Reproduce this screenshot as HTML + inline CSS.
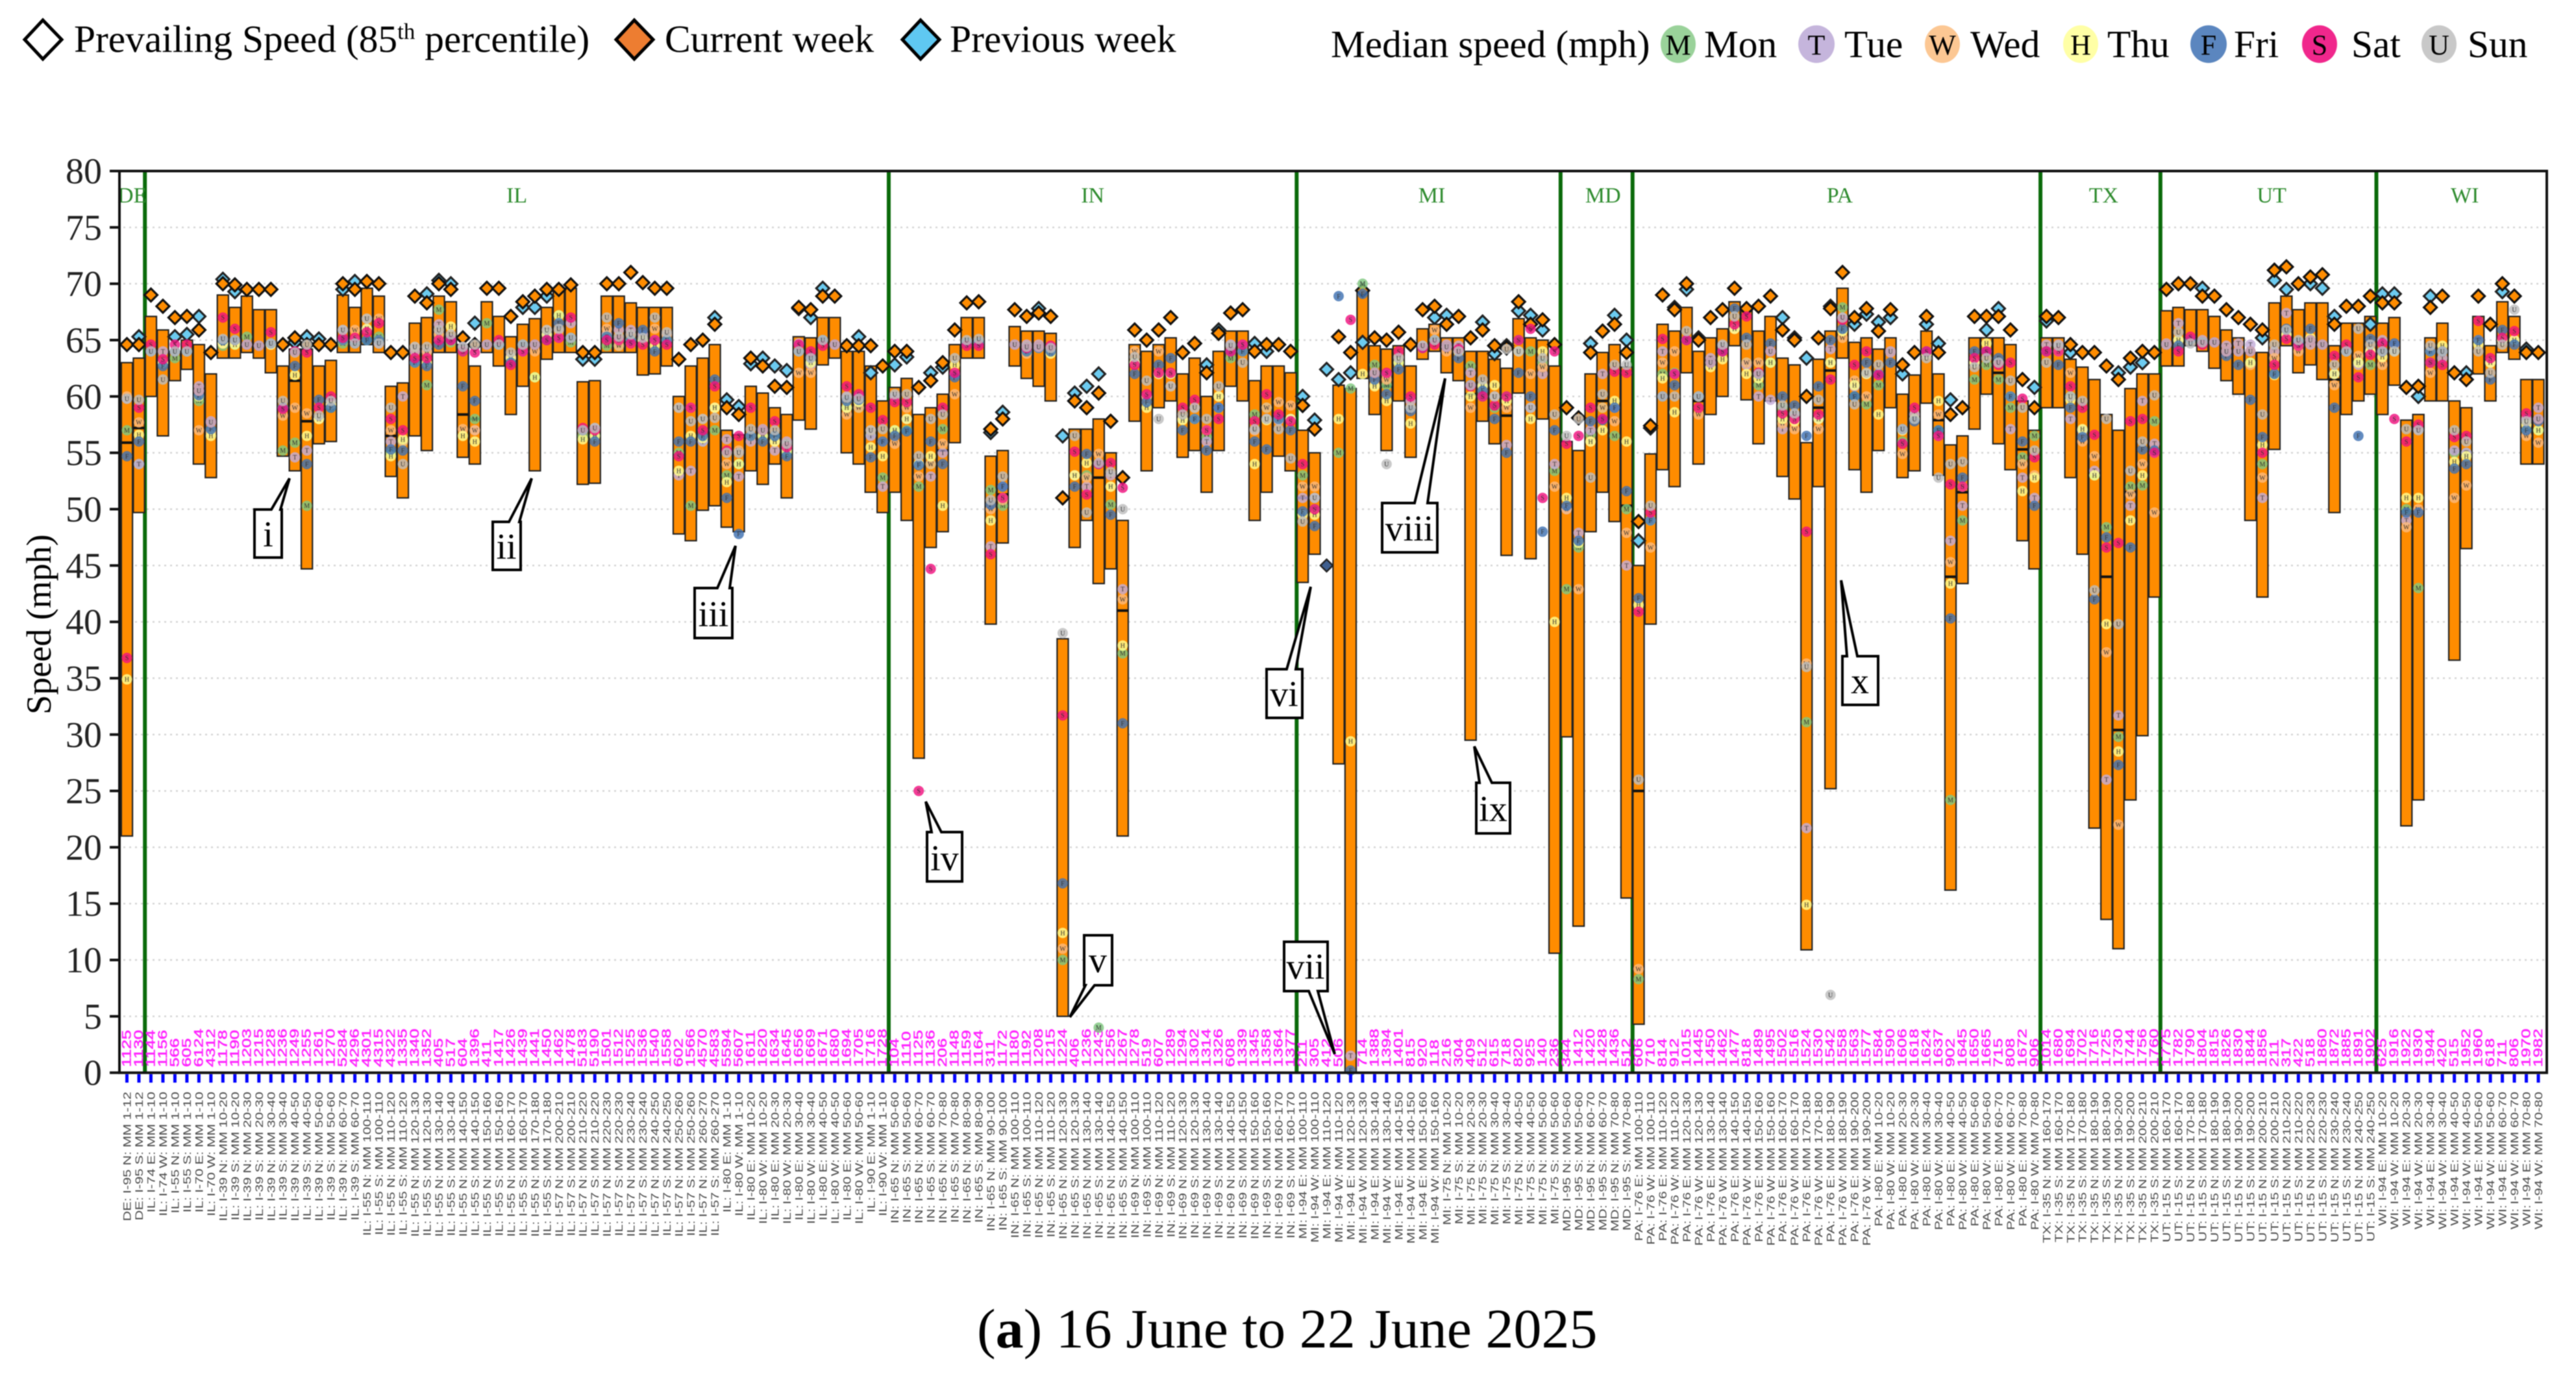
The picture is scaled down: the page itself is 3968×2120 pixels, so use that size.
<!DOCTYPE html>
<html lang="en">
<head>
<meta charset="utf-8">
<title>Prevailing and median speed by segment, 16 June to 22 June 2025</title>
<style>
html,body{margin:0;padding:0;background:#fff;}
#page{position:relative;width:3968px;height:2120px;overflow:hidden;background:#fff;}
#chart{position:absolute;left:0;top:0;filter:blur(0.7px);}
text{font-family:"Liberation Serif",serif;}
</style>
</head>
<body>
<div id="page">
<svg id="chart" width="3968" height="2120" viewBox="0 0 3968 2120" xmlns="http://www.w3.org/2000/svg">
  <g id="legend-left">
    <polygon points="66,31 95,61 66,91 38,61" fill="#fff" stroke="#000" stroke-width="5"/>
    <text x="114" y="80" font-size="59.4">Prevailing Speed (85<tspan dy="-20" font-size="35">th</tspan><tspan dy="20"> percentile)</tspan></text>
    <polygon points="977,31 1006,61 977,91 949,61" fill="#ED7D31" stroke="#000" stroke-width="5"/>
    <text x="1024" y="80" font-size="59.5">Current week</text>
    <polygon points="1418,31 1447,61 1418,91 1390,61" fill="#5FC8F2" stroke="#000" stroke-width="5"/>
    <text x="1463" y="80" font-size="59.5">Previous week</text>
  </g>
  <g id="legend-right">
    <text x="2050" y="88" font-size="59.4">Median speed (mph)</text>
    <ellipse cx="2585" cy="68" rx="27" ry="29" fill="#9AD29A"/>
    <text x="2585" y="84" font-size="44" text-anchor="middle">M</text>
    <text x="2625" y="88" font-size="59.4">Mon</text>
    <ellipse cx="2798" cy="68" rx="28" ry="29" fill="#C5B5DC"/>
    <text x="2798" y="84" font-size="44" text-anchor="middle">T</text>
    <text x="2841" y="88" font-size="59.4">Tue</text>
    <ellipse cx="2992" cy="68" rx="27" ry="29" fill="#FCC793"/>
    <text x="2992" y="84" font-size="44" text-anchor="middle">W</text>
    <text x="3035" y="88" font-size="59.4">Wed</text>
    <ellipse cx="3205" cy="68" rx="27" ry="29" fill="#FFFFA6"/>
    <text x="3205" y="84" font-size="44" text-anchor="middle">H</text>
    <text x="3246" y="88" font-size="59.4">Thu</text>
    <ellipse cx="3402" cy="68" rx="28" ry="29" fill="#5B86BF"/>
    <text x="3402" y="84" font-size="44" text-anchor="middle">F</text>
    <text x="3441" y="88" font-size="59.4">Fri</text>
    <ellipse cx="3573" cy="68" rx="27" ry="29" fill="#F0278C"/>
    <text x="3573" y="84" font-size="44" text-anchor="middle">S</text>
    <text x="3622" y="88" font-size="59.4">Sat</text>
    <ellipse cx="3757" cy="68" rx="27" ry="29" fill="#C8C8C8"/>
    <text x="3757" y="84" font-size="44" text-anchor="middle">U</text>
    <text x="3801" y="88" font-size="59.4">Sun</text>
  </g>
  <g id="grid"></g>
  <g id="dividers"></g>
  <g id="state-labels"></g>
  <g id="segment-codes"></g>
  <g id="bars"></g>
  <g id="week-lines"></g>
  <g id="previous"></g>
  <g id="current"></g>
  <g id="dots"></g>
  <g id="axes"></g>
  <g id="x-labels"></g>
  <text transform="translate(78,962) rotate(-90)" font-size="54" text-anchor="middle">Speed (mph)</text>
  <g><path d="M392 785H418L446 737L432 785H434V859H392Z" fill="#fff" stroke="#000" stroke-width="4"/><text x="413" y="842" font-size="56" text-anchor="middle">i</text></g>
  <g><path d="M759 804H784L819 737L800 804H802V878H759Z" fill="#fff" stroke="#000" stroke-width="4"/><text x="780" y="861" font-size="56" text-anchor="middle">ii</text></g>
  <g><path d="M1070 906H1105L1133 841L1124 906H1128V983H1070Z" fill="#fff" stroke="#000" stroke-width="4"/><text x="1099" y="965" font-size="56" text-anchor="middle">iii</text></g>
  <g><path d="M1428 1282H1435L1426 1235L1450 1282H1482V1358H1428Z" fill="#fff" stroke="#000" stroke-width="4"/><text x="1455" y="1341" font-size="56" text-anchor="middle">iv</text></g>
  <g><path d="M1670 1441H1713V1518H1686L1648 1567L1672 1518H1670Z" fill="#fff" stroke="#000" stroke-width="4"/><text x="1691" y="1498" font-size="56" text-anchor="middle">v</text></g>
  <g><path d="M1951 1031H1982L2019 904L1996 1031H2006V1106H1951Z" fill="#fff" stroke="#000" stroke-width="4"/><text x="1978" y="1088" font-size="56" text-anchor="middle">vi</text></g>
  <g><path d="M1978 1451H2045V1527H2030L2056 1624L2016 1527H1978Z" fill="#fff" stroke="#000" stroke-width="4"/><text x="2011" y="1508" font-size="56" text-anchor="middle">vii</text></g>
  <g><path d="M2129 775H2179L2226 583L2199 775H2214V851H2129Z" fill="#fff" stroke="#000" stroke-width="4"/><text x="2171" y="833" font-size="56" text-anchor="middle">viii</text></g>
  <g><path d="M2274 1206H2279L2271 1150L2298 1206H2326V1284H2274Z" fill="#fff" stroke="#000" stroke-width="4"/><text x="2300" y="1265" font-size="56" text-anchor="middle">ix</text></g>
  <g><path d="M2838 1011H2845L2836 894L2861 1011H2893V1086H2838Z" fill="#fff" stroke="#000" stroke-width="4"/><text x="2865" y="1068" font-size="56" text-anchor="middle">x</text></g>
  <text x="1505" y="2076" font-size="86">(<tspan font-weight="bold">a</tspan>) 16 June to 22 June 2025</text>
</svg>
</div>
<script>
const _ = null;
const yTicks = [0,5,10,15,20,25,30,35,40,45,50,55,60,65,70,75,80];
const stateNames = ["DE","IL","IN","MI","MD","PA","TX","UT","WI"];
const stateCounts = [2,62,34,22,6,34,10,18,14];
const routeRuns = [
["DE","I-95","N","S",["1-12"]],
["IL","I-74","E","W",["1-10"]],["IL","I-55","N","S",["1-10"]],["IL","I-70","E","W",["1-10"]],
["IL","I-39","N","S",["10-20","20-30","30-40","40-50","50-60","60-70"]],
["IL","I-55","N","S",["100-110","110-120","120-130","130-140","140-150","150-160","160-170","170-180"]],
["IL","I-57","N","S",["200-210","210-220","220-230","230-240","240-250","250-260","260-270"]],
["IL","I-80","E","W",["1-10","10-20","20-30","30-40","40-50","50-60"]],["IL","I-90","E","W",["1-10"]],
["IN","I-65","N","S",["50-60","60-70","70-80","80-90","90-100","100-110","110-120","120-130","130-140","140-150"]],
["IN","I-69","N","S",["100-110","110-120","120-130","130-140","140-150","150-160","160-170"]],
["MI","I-94","E","W",["100-110","110-120","120-130","130-140","140-150","150-160"]],
["MI","I-75","N","S",["10-20","20-30","30-40","40-50","50-60"]],
["MD","I-95","N","S",["50-60","60-70","70-80"]],
["PA","I-76","E","W",["100-110","110-120","120-130","130-140","140-150","150-160","160-170","170-180","180-190","190-200"]],
["PA","I-80","E","W",["10-20","20-30","30-40","40-50","50-60","60-70","70-80"]],
["TX","I-35","N","S",["160-170","170-180","180-190","190-200","200-210"]],
["UT","I-15","N","S",["160-170","170-180","180-190","190-200","200-210","210-220","220-230","230-240","240-250"]],
["WI","I-94","E","W",["10-20","20-30","30-40","40-50","50-60","60-70","70-80"]]
];
const segmentCodes = "1125 1130 1144 1156 566 605 6124 4312 1178 1190 1203 1215 1228 1236 1249 1255 1261 1270 5284 4296 4301 4315 4322 1335 1340 1352 405 517 604 1396 411 1417 1426 1439 1441 1450 1462 1478 5183 5190 1501 1512 1525 1536 1540 1558 602 1566 4570 4583 5594 5607 1611 1620 1634 1645 1656 1669 1671 1680 1694 1705 1716 1728 104 1110 1125 1136 206 1148 1159 1164 311 1172 1180 1192 1208 1215 1224 406 1236 1243 1256 1267 1278 519 607 1289 1294 1302 1314 1326 608 1339 1345 1358 1364 1377 211 305 412 506 610 714 1388 1394 1401 815 920 118 216 304 409 512 615 718 820 925 140 236 344 1412 1420 1428 1436 512 606 710 814 912 1015 1445 1450 1462 1477 818 1489 1495 1502 1516 1524 1530 1542 1558 1563 1577 1584 1590 1606 1618 1624 1637 902 1645 1650 1665 715 808 1672 906 1014 1680 1694 1702 1716 1725 1730 1744 1756 1760 1775 1782 1790 1804 1815 1826 1830 1844 1856 211 317 422 518 1860 1872 1885 1891 1902 625 1916 1922 1930 1944 420 515 1952 1960 618 711 806 1970 1982".split(" ");
const barHigh = [63,63.4,67.1,65.9,64,65,64.6,62,69,67.9,68.9,67.7,67.7,62.7,64.2,64.2,62.7,63.2,69,67.9,69.6,68.9,60.9,61.2,66.5,67,68.9,68.4,64.6,62.7,68.4,67.1,65.3,66.4,66.9,67.9,69.5,69.6,61.3,61.4,68.9,68.9,68.3,67.9,67.9,67.9,60,62.7,63.4,64.6,57,56.6,60.9,60.3,59,58.4,65.3,65.2,67,67,64,64,62.7,59.6,60.8,61.6,58.4,59,60.2,64.6,67,67,54.7,55.2,66.2,65.8,65.8,65.6,38.5,57.1,57.1,58,55,49,64.6,64,64.6,65.2,62,63.4,60,64,65.8,65.8,61.4,62.7,62.7,62.1,57,55,_,61,60.7,69.3,64.5,64.2,64.5,62.7,66,66.4,65.2,65.2,64,64,63.3,62.5,66.9,65.2,65,62.7,56,55.2,62,63.9,64.6,62.6,45,54.9,66.4,65.8,67.9,64,65.2,66,68.4,67.7,65.8,67.1,63.4,62.8,55.9,63.3,65.8,69.6,64.8,65.2,64.2,65.2,60.2,61.9,65.8,62,55.7,56.5,65.2,65.2,65.2,64.6,59.6,57,65.2,65.2,63.3,62.6,61.5,58.4,57,60.7,62,62,67.6,67.9,67.7,67.7,67.1,65.9,65.2,63.9,63.9,68.3,68.9,67.7,68.3,68.3,64.5,66.5,66.5,67.1,66.5,67,57.9,58.4,65.2,66.5,59.6,59,67.1,64.5,68.4,67.1,61.5,61.5];
const barLow = [21,49.7,60,56.5,61.4,62.4,54,52.8,63.4,63.4,63.9,63.4,62.1,54.7,53.4,44.7,55.8,56,63.9,63.9,64.6,63.9,52.9,51,56.5,55.2,63.9,63.9,54.6,54,63.9,62.7,58.4,60.9,53.4,63.3,63.9,63.9,52.2,52.3,63.9,63.9,63.9,61.9,62,62.7,47.8,47.2,49.9,50.3,48.4,48,53.4,52.2,54,51,57.9,57.1,62.8,63.4,55,54,51.5,49.7,51.5,49,27.9,46.6,48,55.9,63.4,63.4,39.8,47,62.7,61.6,60.9,59.6,5,46.6,49,43.4,44.7,21,57.8,53.4,59,59.6,54.6,55.2,51.5,55.2,60.9,59.6,49,51.5,54.7,53.4,43.5,46,_,27.4,0,61.6,58.4,55.2,59.6,54.6,63.3,64,62.1,61.4,29.5,57.8,55.8,45.9,60.3,45.6,58,10.6,29.8,13,48,51.5,48.9,15.5,4.3,39.8,53.5,52,62.1,54,58.4,60,64.5,59.7,55.8,59.6,52.9,50.9,10.9,52,25.2,63.4,53.5,51.5,55.2,59,52.8,53.4,59.4,53,16.2,43.4,57.1,60.2,55.8,53.5,47.2,44.7,59,59,52.8,46,21.7,13.6,11,24.2,29.9,42.2,62.7,62.7,64.5,64,62.5,61.4,60.2,49,42.2,55.3,64.5,62.1,62.8,61.5,49.7,58.4,59.6,60.2,58.4,61,21.9,24.2,59.6,59.6,36.6,46.5,62,59.6,63.9,63.3,54,54];
const currentWeek = [64.6,64.6,69,68,67,67.1,65.9,63.9,70,69.9,69.5,69.5,69.5,64.6,65.2,64.6,64.6,64.6,70,69.5,70.2,70,63.9,63.9,68.9,68.3,70,69.5,65.2,64.6,69.6,69.6,67.1,68.4,68.9,69.5,69.5,69.9,63.9,63.9,70,70,71,70.1,69.6,69.6,63.3,64.6,65,66.4,59,58.4,63.4,62.7,60.9,60.8,67.9,67.7,68.9,68.9,64.5,64.5,64.5,62.7,64,64,60.8,61.4,63,65.9,68.3,68.4,57.1,58,67.7,67.1,67.4,67.1,51,59.6,59,60.3,57.8,52.8,65.9,65,65.9,67,63.9,64.7,62.1,65.6,67.4,67.7,64,64.6,64.6,64,59.2,57.1,_,65.3,63.9,69.4,65.2,65,65.7,64.6,67.7,68,66.4,67.1,65.2,65.9,64.5,64.3,68.4,66.4,66.8,64.6,59,58.1,63.9,65.8,66.4,63.9,48.9,57.4,69,67.7,70,65,67,67.7,69.6,67.8,68,68.9,65.9,65,60,65.2,67.8,71,67,67.8,65.8,67.7,62.8,63.9,67.1,63.9,58.4,59,67.1,67.1,67.1,65.9,61.5,59,67.1,67,64.6,63.9,63.9,62.7,61.5,63.4,64,63.9,69.5,70,70,68.9,68.9,67.7,67,66.4,65.9,71.2,71.5,70,70.6,70.8,66.4,68,68,68.9,68.3,68.3,60.8,60.9,67.9,68.9,62.1,61.5,68.9,66.4,70,68.9,63.9,63.9];
const previousWeekIndex = [1,4,5,6,8,9,14,15,16,18,19,25,26,27,29,33,34,35,38,39,49,50,51,52,53,54,55,56,57,58,61,62,64,65,67,68,72,73,76,78,79,80,81,90,91,94,95,98,99,100,101,102,103,109,110,113,114,115,116,117,118,122,124,125,126,127,129,130,131,138,139,140,142,144,145,146,147,148,150,151,152,155,156,159,160,162,166,167,168,173,178,179,180,182,183,184,187,188,189,191,192,195,198,200];
const previousWeekSpeed = [65.3,65.3,65.5,67.1,70.4,69.3,64.8,65.3,65.1,69.5,70.2,69.1,70.3,70,66.5,67.9,67.9,68.9,63.3,63.3,67,59.7,59.1,62.9,63.4,62.7,62.3,67.8,67,69.6,65.3,62.1,62.8,63.5,62.1,62.6,56.8,58.6,67.8,56.5,60.3,60.9,62,62.8,65.9,64.7,64,60,57.9,62.4,61.5,62.1,64.8,67,67.2,66.6,63.8,64.5,67.6,67.2,65.9,64.7,67.2,65,47.2,57.2,67.9,69.5,65.2,67,65.2,63.4,68,66.4,67.3,66.6,67,62,66.4,64.7,59.7,65.9,67.8,60.8,66.7,63.9,62.1,62.6,63,69.6,65.2,70.3,69.5,70,69.6,67.1,66.4,69.1,69.1,60,68.9,62.1,69.3,64.2];
const weekMedianIndex = [0,1,14,15,22,28,29,68,73,81,83,98,105,112,115,123,125,126,131,141,142,151,152,153,156,158,165,166,167,184];
const weekMedianSpeed = [55.9,57.2,61.4,57.8,56.5,58.4,58,55.2,51.3,52.8,41,51,60.9,60.2,58.3,59.6,50.3,25,59.6,59,62.3,57.9,44,51.5,62.1,55.3,44,30.4,51.5,61.5];
const dayLetters = ["M","T","W","H","F","S","U"];
const dayColors = ["#7FC77F","#C3ACD8","#FBB97D","#FFFF90","#3F71B2","#F0117F","#BDBDBD"];
const medianDE = [[57,59.8,60,34.9,54.7,36.8,59.8],[54,54,57.7,56.6,56,59,59.7]];
const medianIL = [[64,64,64,64,64,64.6,64],[63,64,63,63,62.7,63.3,61.5],[63.4,64,64,64,64,64.6,64],[64,64,64,64,64,64.6,64],[59.6,60.9,57,60,60.1,60.5,60.5],[57,57.8,56.8,56.5,57.1,57.7,57.7],[64.5,64.7,64.7,64.7,65,67,65.1],[64.6,64.8,64.8,64.6,65,66,65],[65.3,64.6,64.6,64.6,64.6,64.6,64.6],[64.5,64.5,64.5,64.5,64.5,64.5,64.5],[64.6,64.6,64.6,64.6,64.7,65.7,64.7],[55.2,59,58.3,59,59,58.9,59.6],[55.9,54.6,59,61.9,62.7,64,63.9],[50.3,55.2,58.5,56.5,54,63.9,64.6],[58,58,58,58,59.7,59,58.3],[59,59.6,59.3,59.3,59,60,59.6],[64.7,65.9,65,65,65,65.2,65.9],[65,65,65.9,65,64.7,65.2,64.7],[65,66,66.9,66,65,65.7,66.9],[65.3,64.7,66.9,65,65,66.5,64.7],[55,56,57,54.7,55.3,58,59],[56,60,56,56.2,55.2,57,54],[63,64,64.4,63,63,63.4,64.4],[61,64,64,63,62.7,63.4,64.4],[67.7,66.4,65.5,65,64.6,65,65.9],[64.8,65.1,65,66.2,65,65,65.5],[64,64.4,57.1,56.5,60.9,64,64.4],[58,57,57,56,59.6,63.9,64.6],[66.5,64.6,64.6,64.6,64.6,64.6,64.6],[64.6,64.6,64.6,64.6,64.6,65,64.6],[63.4,63.5,63.5,63.4,63,62.8,63.9],[64.6,64,64.5,64.6,64.6,64,64.6],[61.7,64.6,64,61.7,64.6,64.6,64.6],[65,65.5,65.9,65.5,65,65,65.9],[67.2,65.2,65.9,67.2,66.5,65.2,66],[64.8,66.5,65.2,65.2,65.2,67,65.2],[56.5,57,57,56.2,57,57.2,57],[56.5,57.2,57,56.5,56,57,57.2],[64.5,65.5,66,65.3,65.3,65,67],[64.5,65.9,64.5,65,66.5,65,65.3],[65,65.9,64.7,65,65,64.7,65.5],[65,65.5,65,65,65.9,64.6,65.2],[65,65,66,64.5,64,65,67],[65,65.5,65.5,65,65,64.6,65.7],[55,53,59,53.4,56,54.7,59],[50.3,53.4,59,56.5,56,59,57.8],[56,56,58,56.3,56.5,57,58],[57,59,59,59,61.5,60.9,58.1],[53,56.2,54,52.4,51,55.2,55],[54,52.9,55.2,54,47.8,56.5,55],[56.5,56,56.5,56.5,56.5,59,57.1],[56.5,57.1,57,56.5,56,57,57],[56.5,55.2,56,56,56.5,57.8,57],[55,56,55.5,55.2,54.7,55.5,55.8],[64,64.7,62.1,64,64,64.6,64],[63,62.8,62.1,63,63.5,64,63.4],[65,65,65,65,65,64.5,65],[64.6,64.6,64.6,64.6,64.6,64.6,64.6],[59,60,58.4,59,59.6,60.9,59.9],[59,60,59,59.5,59.7,60.2,59.8],[56.6,56.5,57,55.5,54.6,59,57],[52.8,52,56,54.7,56,57.9,57.1]];
const medianIN = [[57,60,55.8,57,56.5,59.5,60.2],[57,58,59,58,56.9,59.5,60.2],[52,54,52.9,54,53.9,25,54.7],[54,52.9,54,54.7,56,44.7,58],[57.1,55,55.8,50.3,54,59,58.4],[62,62,60.2,62.8,61.7,62.1,63.4],[64.8,64.8,64.8,64.8,64.8,64.5,65],[64.8,64.8,64.8,64.8,64.8,64.5,65.1],[51.7,46.7,50,49,50.4,46,50.8],[50.3,52,50.8,51,52,51,52.9],[64.6,64.6,64.6,64.6,64.6,64.6,64.6],[64,64.6,63.8,64,64,64.3,64.4],[64.3,64.6,64.3,64.3,64.3,64.4,64.4],[64,64.4,64,63.8,64,64.5,64.3],[10,_,11,12.4,16.8,31.7,39],[53,53,53,53,52,55.1,56.5],[53,52,52.8,54.1,54.9,51.3,49.7],[4,54,54.9,54,54,54,54.1],[50.4,53,52,52,49.5,54.1,53.3],[37.2,42.9,42,37.9,31,51.9,50],[63,63,64,63,62,62.8,63.5],[60,60,60,59,59.5,60.2,61.4],[62,62,64,62,62.8,62.1,58],[62,62,60.9,62,63.4,62.1,60.9],[58,58,58,57.9,57,59,58.4],[58,58,59,58,58,59.7,59],[56.4,56,57,57,55.2,57,58],[59,59,60,60,59,58,60.9],[63.4,64.6,64,64,64,64,64.5],[64,64.6,64,64,64,64.6,63],[58.4,57,57,54,56,57.8,57.1],[59,58,59,57.9,55.3,60.2,58],[58,57.9,59.5,58,58,58.4,57.1],[58,58,59.2,58,57,57.8,54.5]];
const medianMI = [[53,51,52,49.5,49.8,54,48.9],[50,51,52,49.5,48.5,50,51],[_,_,_,_,45,_,_],[55,_,_,58,68.9,_,_],[60.7,1.5,_,29.4,0.2,66.8,_],[70,_,_,62,69.1,_,_],[62.8,62,61,60.9,61.5,62.1,62.1],[61,62,61.5,59.6,60.2,62.1,54],[63,63.5,63.5,63,62.4,64,63.4],[59,59.6,59,57.6,58.7,60,59],[64.3,64.5,64.3,64.3,64.3,64.3,64.5],[65,65,65.9,65,65,64.6,65],[64.4,64.6,64,64.4,64.4,64.4,64.4],[64,64.5,64,64,63.4,64.2,64],[62.7,62.1,59,60,61,60.9,61],[60,61,60.5,60.9,60.5,60,61.5],[59,60,60,61,58,59.2,60],[60,55.7,59,59.6,55,60,64.2],[65,64,64,64,62.1,65,64],[64,59,62,58,60,66,59],[63,62,62.6,64,48,51,63.4],[53.4,54,52,40,57,64,58.4]];
const medianMD = [[42.9,50,50,51,50.3,55.8,56.5],[46.6,47.9,42.9,47,47.2,56.5,58],[56.6,57,56,56,57.8,59,52.8],[59,62,59,57,57.9,58,60.2],[56.5,59,57.8,59.6,59,62.2,62.8],[50,45,47.9,56,51.6,62.1,62.8]];
const medianPA = [[8.3,_,9.2,41.5,42.1,40.9,26],[49,49,46.6,49,49,49.7,50.3],[62,64,63,61.6,60,65.1,60],[62.1,62,64,58.6,61,62,60],[65,65,65,65,65,65,65.8],[60,60,58.4,60,60,59,60],[63,63.4,63,62.6,63,63,63],[64,64.5,64,63.3,64,64,64.6],[66,66,66,66,67.8,66.4,67.1],[63,62.8,63,62,65.2,67.1,64.6],[61,60,63,61.6,62,62.1,62],[63,59.7,64,63,64.7,64,64],[59,57.1,57.6,58,60,58.5,59.2],[58,58.4,57.1,57.8,59.2,58,58.5],[31.1,21.7,36.3,14.9,56.5,48,36],[58,58,57.1,58,60.9,58.4,59.7],[63,64.2,63,63,65,61.5,6.9],[67.9,67,65.2,65.8,66,66.8,67],[60,60.9,61.4,61,60,62.8,59.3],[59.3,62,60,62,63,64,62.1],[61,62,62,58.4,62,61.9,62.8],[64,63.9,64,64,63,64,64],[56,57,54.9,57,57.1,55.8,57.1],[58,58.4,58,58,57.8,59,58],[64,64,64,63.7,64,64,63.4],[57,56.5,58.4,59.6,57,56.5,52.8],[24.2,47.2,45.3,43.4,40.3,52.2,54],[49,50.3,52,52,52.8,52,54.2],[61.5,63,63,63,64,63.4,62.6],[62.8,64,64,64.7,64,64,63.4],[61.5,63,63,63,63.4,62.8,63],[59,57.1,60,60,60,63,61.4],[54.6,52.8,54,51.6,56,59.8,59],[56.5,51,53,52.8,50.3,54.6,55.2]];
const medianTX = [[64,64.6,64,64,64,64,63],[64,64.6,64,64,62.8,64,64.5],[60,58,62.1,59.7,59,60.9,60],[57,57,56,57.1,56.4,59,59.6],[53,53.4,54.7,53,42,56.6,42.8],[48.4,26,37.3,39.8,47.5,46.6,58],[29.8,31.7,22,28.5,27.3,47,39.8],[52,50.3,51.3,49,46.6,57.8,53.4],[52.1,59.6,54,53,55.3,58,56],[57.8,55.8,49.7,55,55.2,55,60.1]];
const medianUT = [[64.6,64.7,64.6,64.6,64.6,64.6,64.6],[65,66.5,65,65,64.5,64,65.7],[65,65,65,65,65,65.3,64.7],[64.8,65,64.8,64.8,64.8,64.6,64.8],[64.8,64.8,64.8,64.8,64.8,64.8,64.8],[64,64.5,64,64,63.6,64,64],[64,64.7,64,64,62.8,64,64],[63,64.6,62.8,63,59.7,64,64],[54,51,52.8,55.7,56.4,55,58.4],[62,64,63.4,61.9,62,62.8,64.6],[65.5,67.4,65.5,65.5,66,65.1,65.9],[64.5,64.8,64,64.5,64.8,64.5,65],[65,64.6,65,65.2,66,65,65],[64.6,64.6,64.6,64.6,64.6,64.6,64.6],[62,62,61,62,59,63.6,62.8],[64,64,64,64,64,64.6,64],[63,62.8,63.6,63,56.5,61.7,66],[62.8,64,64,64,65.1,63.7,64.6]];
const medianWI = [[64,65,62.8,63.5,64,64.7,64],[64,64.6,64,64,64.7,58,64],[50,49,48.4,51,49.7,56,57.1],[43,57.1,50,51,49.7,57.5,57],[63,64,62.1,64,64,63,64.5],[64,63.4,64,64.5,64,62.8,64],[55,55.2,51,54.2,53.6,56.4,57],[55,55,52.1,54.7,54,56.5,56],[65,65,65,64.6,65,66.7,64],[63,63,63,63,61.5,63.4,62.1],[65,65,65,65,65.9,65.2,64.6],[65,65,65,65,64.6,65.8,67.7],[57,58,56.5,57.5,57,58.5,57.8],[57,59,55.9,57,57.8,58,58]];
const dailyMedians = [].concat(medianDE,medianIL,medianIN,medianMI,medianMD,medianPA,medianTX,medianUT,medianWI);
const outlierDiamondIndex = [100];
const outlierDiamondSpeed = [45];

const SVGNS = "http://www.w3.org/2000/svg";
const plotLeft = 184, plotRight = 3923, plotTop = 263.5, plotBottom = 1652.7;
const firstCentre = 195.5, step = 18.48;
function xPos(i){ return firstCentre + step * i; }
function yPos(v){ return plotBottom - (plotBottom - plotTop) * v / 80; }
function make(tag, parent, attrs, text){
  const e = document.createElementNS(SVGNS, tag);
  for (const k in attrs) e.setAttribute(k, attrs[k]);
  if (text !== undefined) e.textContent = text;
  parent.appendChild(e);
  return e;
}
function diamondPoints(cx, cy, r){
  return (cx)+","+(cy-r)+" "+(cx+r)+","+cy+" "+cx+","+(cy+r)+" "+(cx-r)+","+cy;
}
const gridG = document.getElementById("grid");
const axesG = document.getElementById("axes");
yTicks.forEach(function(t){
  if (t > 0 && t < 80) {
    const g = make("line", gridG, {x1:plotLeft+6,x2:plotRight-4,y1:yPos(t),y2:yPos(t),stroke:"#d4d4d4","stroke-width":2.5,"stroke-dasharray":"3 6"});
    
    
  }
  const tk = make("line", axesG, {x1:169,x2:plotLeft,y1:yPos(t),y2:yPos(t),stroke:"#111","stroke-width":4});
  
  
  const lb = make("text", axesG, {x:157,y:yPos(t)+19,"font-size":56,"text-anchor":"end",fill:"#222"}, String(t));
  
  
});
const dividersG = document.getElementById("dividers");
const stateG = document.getElementById("state-labels");
let cursor = 0;
stateNames.forEach(function(name, s){
  const startX = s === 0 ? plotLeft : xPos(cursor - 0.5);
  const end = cursor + stateCounts[s];
  const endX = s === stateNames.length - 1 ? plotRight : xPos(end - 0.5);
  const nudge = name === "MD" ? 10 : (name === "DE" || name === "IL" || name === "IN" ? 0 : 5);
  const lab = make("text", stateG, {x:(startX+endX)/2+nudge,y:312,"font-size":34,"text-anchor":"middle",fill:"#2E8B2E"}, name);
  
  
  if (s < stateNames.length - 1) {
    const d = make("line", dividersG, {x1:endX,x2:endX,y1:plotTop,y2:plotBottom,stroke:"#0A6A0A","stroke-width":6});
    
    
  }
  cursor = end;
});
const codesG = document.getElementById("segment-codes");
segmentCodes.forEach(function(code, i){
  const t = make("text", codesG, {transform:"translate("+(xPos(i)+6)+",1644) rotate(-90) scale(1.4,1)","font-size":19,fill:"#FF22FF",stroke:"#FF22FF","stroke-width":0.5});
  t.textContent = code;
  t.style.fontFamily = '"Liberation Sans", sans-serif';
  
  
});
const barsG = document.getElementById("bars");
barHigh.forEach(function(high, i){
  if (high === null) return;
  const top = yPos(high), bottom = yPos(barLow[i]);
  const r = make("rect", barsG, {x:xPos(i)-8.6,y:top,width:17.2,height:bottom-top,fill:"#FF8C00",stroke:"#222","stroke-width":2.2});
  
  
});
const linesG = document.getElementById("week-lines");
weekMedianIndex.forEach(function(i, k){
  const l = make("line", linesG, {x1:xPos(i)-8.6,x2:xPos(i)+8.6,y1:yPos(weekMedianSpeed[k]),y2:yPos(weekMedianSpeed[k]),stroke:"#111","stroke-width":4});
  
  
});
const prevG = document.getElementById("previous");
previousWeekIndex.forEach(function(i, k){
  const p = make("polygon", prevG, {points:diamondPoints(xPos(i),yPos(previousWeekSpeed[k]),10),fill:"#6CCBF0",stroke:"#222","stroke-width":3.2});
  
  
});
const curG = document.getElementById("current");
currentWeek.forEach(function(v, i){
  if (v === null) return;
  const c = make("polygon", curG, {points:diamondPoints(xPos(i),yPos(v),10),fill:"#FF8C00",stroke:"#111","stroke-width":3.2});
  
  
});
const dotsG = document.getElementById("dots");
dailyMedians.forEach(function(row, i){
  row.forEach(function(v, d){
    if (v === null) return;
    const dot = make("circle", dotsG, {cx:xPos(i),cy:yPos(v),r:8,fill:dayColors[d],"fill-opacity":0.82});
    
    
    const letter = make("text", dotsG, {x:xPos(i),y:yPos(v)+3.5,"font-size":10,"text-anchor":"middle",fill:"#333"}, dayLetters[d]);
    
    
  });
});
outlierDiamondIndex.forEach(function(i, k){
  const o = make("polygon", dotsG, {points:diamondPoints(xPos(i),yPos(outlierDiamondSpeed[k]),9.5),fill:"#3F5F8F",stroke:"#222","stroke-width":2.5});
  
  
});
const frame = make("path", axesG, {d:"M"+plotLeft+" "+plotBottom+"V"+plotTop+"H"+plotRight+"V"+plotBottom+"Z",fill:"none",stroke:"#111","stroke-width":4});


const xG = document.getElementById("x-labels");
let index = 0;
routeRuns.forEach(function(run){
  run[4].forEach(function(range){
    [run[2], run[3]].forEach(function(dir){
      const x = xPos(index);
      const tick = make("line", xG, {x1:x,x2:x,y1:1655,y2:1668,stroke:"#0000FF","stroke-width":5});
      
      
      const label = run[0] + ": " + run[1] + " " + dir + ": MM " + range;
      const t = make("text", xG, {transform:"translate("+(x+6)+",1682) rotate(-90) scale(1.28,1)","font-size":17,"text-anchor":"end",fill:"#4a4a4a"}, label);
      t.style.fontFamily = '"Liberation Sans", sans-serif';
      
      
      index += 1;
    });
  });
});
</script>
</body>
</html>
